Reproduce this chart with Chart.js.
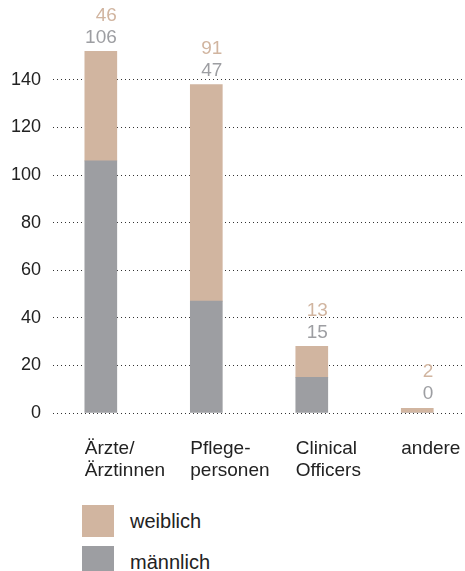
<!DOCTYPE html>
<html lang="de">
<head>
<meta charset="utf-8">
<title>Personal nach Berufsgruppe und Geschlecht</title>
<script src="https://cdn.jsdelivr.net/npm/chart.js@4.4.1/dist/chart.umd.min.js"></script>
<style>
  html, body { margin: 0; padding: 0; background: #fff; }
  #wrap {
    position: relative;
    width: 465px;
    height: 571px;
    overflow: hidden;
    font-family: "Liberation Sans", Arial, Helvetica, sans-serif;
  }
  #chartBox { position: absolute; left: 0; top: 0; width: 465px; height: 490px; }
  #legend { position: absolute; left: 82px; top: 505px; }
  .legend-item {
    display: flex;
    align-items: center;
    height: 32px;
    margin-bottom: 9px;
    font-size: 20px;
    color: #222;
  }
  .legend-box { width: 32px; height: 32px; margin-right: 16px; }
</style>
</head>
<body>
<div id="wrap">
  <div id="chartBox"><canvas id="staffChart"></canvas></div>
  <div id="legend"></div>
</div>
<script>
// Daten
const categories = [
  ["Ärzte/", "Ärztinnen"],
  ["Pflege-", "personen"],
  ["Clinical", "Officers"],
  ["andere"],
];
const maleValues = [106, 47, 15, 0];
const femaleValues = [46, 91, 13, 2];
const yTickValues = [0, 20, 40, 60, 80, 100, 120, 140];

const FEMALE_COLOR = "#d1b5a0";
const MALE_COLOR = "#9d9ea2";
const TEXT_COLOR = "#222";
const FONT = '"Liberation Sans", Arial, Helvetica, sans-serif';
const BAR_WIDTH = 32;

Chart.defaults.font.family = FONT;

/**
 * Zahlen über den Säulen (weiblich oben, männlich darunter)
 */
const valueLabelPlugin = {
  id: "valueLabels",
  afterDatasetsDraw(chart) {
    const ctx = chart.ctx;
    const maleBars = chart.getDatasetMeta(0).data;
    const femaleBars = chart.getDatasetMeta(1).data;

    ctx.save();
    ctx.font = "19px " + FONT;
    ctx.textAlign = "right";
    ctx.textBaseline = "middle";
    femaleBars.forEach((bar, i) => {
      const right = bar.x + bar.width / 2;
      const top = Math.min(bar.y, maleBars[i].y);
      ctx.fillStyle = MALE_COLOR;
      ctx.fillText(String(maleValues[i]), right, top - 14);
      ctx.fillStyle = FEMALE_COLOR;
      ctx.fillText(String(femaleValues[i]), right, top - 36);
    });
    ctx.restore();
  },
};

/**
 * Kategorienamen linksbündig unter den Säulen
 */
const categoryLabelPlugin = {
  id: "categoryLabels",
  afterDraw(chart) {
    const ctx = chart.ctx;
    const xScale = chart.scales.x;
    const bottom = chart.chartArea.bottom;

    ctx.save();
    ctx.font = "19px " + FONT;
    ctx.fillStyle = TEXT_COLOR;
    ctx.textAlign = "left";
    ctx.textBaseline = "alphabetic";
    categories.forEach((lines, i) => {
      const left = xScale.getPixelForValue(i) - BAR_WIDTH / 2;
      lines.forEach((line, j) => {
        ctx.fillText(line, left, bottom + 41 + j * 22);
      });
    });
    ctx.restore();
  },
};

/**
 * Legende untereinander als HTML
 */
function renderLegend(chart) {
  const legendDiv = document.getElementById("legend");
  const items = chart.data.datasets.slice().reverse();
  legendDiv.innerHTML = items
    .map(
      (ds) =>
        `<div class="legend-item"><span class="legend-box" style="background:${ds.backgroundColor}"></span>${ds.label}</div>`
    )
    .join("");
}

const ctx = document.getElementById("staffChart").getContext("2d");
const staffChart = new Chart(ctx, {
  type: "bar",
  data: {
    datasets: [
      {
        label: "männlich",
        data: maleValues.map((v, i) => ({ x: i, y: v })),
        backgroundColor: MALE_COLOR,
        barThickness: BAR_WIDTH,
      },
      {
        label: "weiblich",
        data: femaleValues.map((v, i) => ({ x: i, y: v })),
        backgroundColor: FEMALE_COLOR,
        barThickness: BAR_WIDTH,
      },
    ],
  },
  options: {
    responsive: true,
    maintainAspectRatio: false,
    animation: false,
    layout: {
      padding: { top: 0, left: -1, right: 1, bottom: 69 },
    },
    scales: {
      x: {
        type: "linear",
        stacked: true,
        offset: false,
        min: -0.453,
        max: 3.443,
        grid: { display: false },
        border: { display: false },
        ticks: { display: false },
      },
      y: {
        stacked: true,
        min: 0,
        max: 164,
        afterBuildTicks: (axis) => {
          axis.ticks = yTickValues.map((v) => ({ value: v }));
        },
        grid: { color: "#333", lineWidth: 1, drawTicks: false },
        border: { display: false, dash: [1, 3] },
        ticks: {
          padding: 12,
          color: TEXT_COLOR,
          font: { size: 18 },
        },
      },
    },
    plugins: {
      legend: { display: false },
      tooltip: { enabled: false },
    },
  },
  plugins: [valueLabelPlugin, categoryLabelPlugin],
});

renderLegend(staffChart);
</script>
</body>
</html>
